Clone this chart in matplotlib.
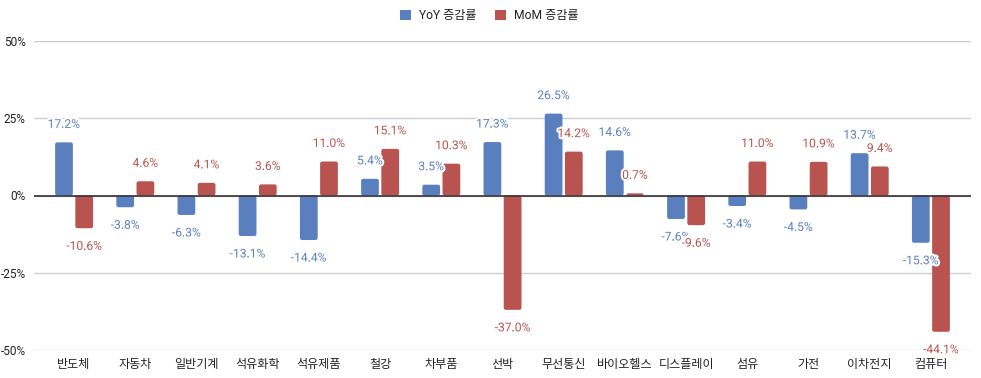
import matplotlib
matplotlib.use("Agg")
import matplotlib.pyplot as plt
import matplotlib.patheffects as pe
from matplotlib.patches import FancyBboxPatch
import numpy as np

categories = ["반도체", "자동차", "일반기계", "석유화학", "석유제품", "철강", "차부품", "선박",
              "무선통신", "바이오헬스", "디스플레이", "섬유", "가전", "이차전지", "컴퓨터"]
yoy = [17.2, -3.8, -6.3, -13.1, -14.4, 5.4, 3.5, 17.3, 26.5, 14.6, -7.6, -3.4, -4.5, 13.7, -15.3]
mom = [-10.6, 4.6, 4.1, 3.6, 11.0, 15.1, 10.3, -37.0, 14.2, 0.7, -9.6, 11.0, 10.9, 9.4, -44.1]
series_names = ["YoY 증감률", "MoM 증감률"]
yticks = [-50, -25, 0, 25, 50]

BLUE = "#5A7FBF"
RED = "#B9534F"
FONT = ["Roboto", "Noto Sans CJK KR", "DejaVu Sans"]
KFONT = ["Noto Sans CJK KR", "DejaVu Sans"]

fig = plt.figure(figsize=(9.81, 3.78), dpi=100)
ax = fig.add_axes([34/981, 1-350/378, (971-34)/981, (350-41)/378])

pad = 0.155
ax.set_xlim(-0.5 - pad, len(categories) - 0.5 + pad)
ax.set_ylim(-50, 50)

x = np.arange(len(categories))
w = 0.29
off = 0.165
b1 = ax.bar(x - off, yoy, w, color=BLUE, label=series_names[0], zorder=3)
b2 = ax.bar(x + off, mom, w, color=RED, label=series_names[1], zorder=3)

# replace rectangles with slightly rounded ones
rx = 0.035
aspect = (100 / 309) * 61.0 * 1.0  # y-units per x-unit in pixel space
for bars, col in [(b1, BLUE), (b2, RED)]:
    for r in bars:
        r.set_visible(False)
        x0, y0 = r.get_x(), r.get_y()
        ww, hh = r.get_width(), r.get_height()
        if hh < 0:
            y0, hh = y0 + hh, -hh
        fb = FancyBboxPatch((x0, y0), ww, hh,
                            boxstyle=f"round,pad=0,rounding_size={rx}",
                            mutation_aspect=aspect, facecolor=col, edgecolor="none", zorder=3)
        ax.add_patch(fb)

halo = [pe.withStroke(linewidth=3, foreground="white")]
for xs, vals, col in [(x - off, yoy, BLUE), (x + off, mom, RED)]:
    for xi, v in zip(xs, vals):
        dy = 18 if v >= 0 else -18
        ax.annotate(f"{v:.1f}%", (xi, v), xytext=(0, dy), textcoords="offset pixels",
                    ha="center", va="center", color=col, fontsize=8.7,
                    family=FONT, path_effects=halo, zorder=5)

ax.set_yticks(yticks)
ax.set_yticklabels([f"{t}%" for t in yticks], family=FONT, fontsize=8.6, color="#222222")
ax.set_xticks(x)
ax.set_xticklabels(categories, family=KFONT, fontsize=8.7, color="#222222")
ax.tick_params(axis="both", length=0)
ax.tick_params(axis="x", pad=6)
ax.tick_params(axis="y", pad=6)
for s in ax.spines.values():
    s.set_visible(False)
ax.yaxis.grid(True, color="#CCCCCC", linewidth=1, zorder=0)
ax.axhline(0, color="#333333", linewidth=1.2, zorder=4)

leg = fig.legend(handles=[b1, b2], labels=series_names, loc="center", bbox_to_anchor=(0.499, 1-16/378),
                 ncol=2, frameon=False, prop={"family": FONT, "size": 8.7},
                 handlelength=0.9, handleheight=0.9, columnspacing=1.5, handletextpad=0.7)
for h in leg.legend_handles:
    h.set_visible(True)
for t in leg.get_texts():
    t.set_color("#222222")

fig.savefig("out.png", dpi=100)
